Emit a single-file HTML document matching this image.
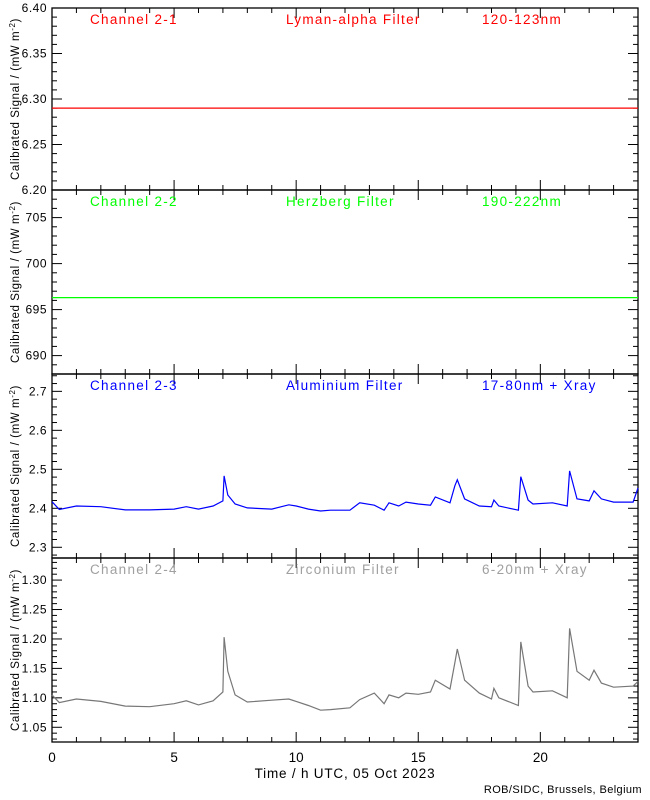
<!DOCTYPE html>
<html><head><meta charset="utf-8"><style>
body{margin:0;background:#fff}
svg{display:block;font-family:"Liberation Sans",sans-serif}
</style></head><body>
<svg id="c" width="650" height="800" xmlns="http://www.w3.org/2000/svg"></svg>
<script>
const times=[0,0.3,1,2,3,4,5,5.5,6,6.6,7.0,7.05,7.2,7.5,8,9,9.7,10,10.5,11,11.4,12.2,12.6,13.2,13.6,13.8,14.2,14.5,15,15.5,15.7,16.3,16.5,16.6,16.9,17.5,18,18.1,18.3,19.1,19.2,19.5,19.7,20.5,21.1,21.2,21.5,22,22.2,22.5,23,23.8,24];
const ch1=times.map(()=>6.29);
const ch2=times.map(()=>696.3);
const ch3=[2.417,2.397,2.406,2.404,2.396,2.396,2.398,2.404,2.398,2.406,2.419,2.483,2.434,2.411,2.401,2.398,2.409,2.406,2.398,2.393,2.395,2.395,2.414,2.408,2.395,2.414,2.406,2.416,2.411,2.408,2.429,2.414,2.458,2.473,2.424,2.406,2.404,2.421,2.406,2.395,2.481,2.421,2.411,2.414,2.406,2.496,2.424,2.419,2.445,2.424,2.416,2.416,2.452];
const ch4=[1.105,1.092,1.098,1.094,1.086,1.085,1.09,1.095,1.088,1.095,1.11,1.203,1.145,1.105,1.093,1.096,1.098,1.094,1.087,1.079,1.08,1.083,1.097,1.108,1.09,1.105,1.1,1.108,1.106,1.11,1.13,1.115,1.16,1.183,1.13,1.108,1.098,1.116,1.1,1.087,1.195,1.12,1.11,1.112,1.1,1.218,1.145,1.13,1.147,1.125,1.118,1.12,1.128];
const xTicks=[0,5,10,15,20];
const titles=[["Channel 2-1","Lyman-alpha Filter","120-123nm"],["Channel 2-2","Herzberg Filter","190-222nm"],["Channel 2-3","Aluminium Filter","17-80nm + Xray"],["Channel 2-4","Zirconium Filter","6-20nm + Xray"]];
const yTicks1=["6.20","6.25","6.30","6.35","6.40"];
const yTicks2=["690","695","700","705"];
const yTicks3=["2.3","2.4","2.5","2.6","2.7"];
const yTicks4=["1.05","1.10","1.15","1.20","1.25","1.30"];

const NS="http://www.w3.org/2000/svg";
const svg=document.getElementById('c');
function mk(tag,attrs,parent){const e=document.createElementNS(NS,tag);for(const k in attrs)e.setAttribute(k,attrs[k]);(parent||svg).appendChild(e);return e;}
const X0=52,X1=638;
const xs=t=>X0+(t/24)*(X1-X0);
const panels=[
 {top:8,bot:190,min:6.2,max:6.4,minor:0.01,major:0.05,ticks:yTicks1,data:ch1,col:"#ff0000",tcol:"#ff0000"},
 {top:190,bot:374,min:688,max:708,minor:1,major:5,ticks:yTicks2,data:ch2,col:"#00ff00",tcol:"#00ff00"},
 {top:374,bot:558,min:2.2725,max:2.7445,minor:0.02,major:0.1,ticks:yTicks3,data:ch3,col:"#0000ff",tcol:"#0000ff"},
 {top:558,bot:742,min:1.025,max:1.3375,minor:0.01,major:0.05,ticks:yTicks4,data:ch4,col:"#777777",tcol:"#a0a0a0"}
];
panels.forEach((p,i)=>{
 const g=mk('g',{});
 
 
 const ys=v=>p.bot-(v-p.min)/(p.max-p.min)*(p.bot-p.top);
 mk('rect',{x:X0,y:p.top,width:X1-X0,height:p.bot-p.top,fill:'none',stroke:'#000','stroke-width':1.3},g);
 const start=Math.ceil(p.min/p.minor-1e-6);
 for(let k=start;k*p.minor<=p.max+1e-9;k++){
  const v=k*p.minor;const y=ys(v);
  const isMaj=Math.abs(v/p.major-Math.round(v/p.major))<1e-6;
  const L=isMaj?10:5;
  mk('line',{x1:X0,x2:X0+L,y1:y,y2:y,stroke:'#000'},g);
  mk('line',{x1:X1,x2:X1-L,y1:y,y2:y,stroke:'#000'},g);
 }
 p.ticks.forEach(s=>{const t=mk('text',{x:X0-5,y:ys(parseFloat(s))+4,'text-anchor':'end','font-size':12,'letter-spacing':0.5},g);t.textContent=s;
  });
 for(let h=0;h<=24;h++){const x=xs(h);const L=h%5==0?10:5;
  mk('line',{x1:x,x2:x,y1:p.top,y2:p.top+L,stroke:'#000'},g);
  mk('line',{x1:x,x2:x,y1:p.bot,y2:p.bot-L,stroke:'#000'},g);}
 const tx=[90,286,482];
 titles[i].forEach((s,j)=>{const t=mk('text',{x:tx[j],y:p.top+16,fill:p.tcol,'font-size':13.5,'letter-spacing':1.3},g);t.textContent=s;
  });
 const cy=(p.top+p.bot)/2;
 const yt=mk('text',{x:0,y:0,'font-size':11.5,'letter-spacing':0.6,'text-anchor':'middle',transform:`translate(19,${cy}) rotate(-90)`},g);
 yt.innerHTML='Calibrated Signal / (mW m<tspan dy="-4" font-size="8">-2</tspan><tspan dy="4">)</tspan>';
 
 const pts=times.map((t,k)=>xs(t).toFixed(1)+','+ys(p.data[k]).toFixed(1)).join(' ');
 const pl=mk('polyline',{points:pts,fill:'none',stroke:p.col,'stroke-width':1.2},g);
 
 
});
xTicks.forEach(h=>{const t=mk('text',{x:xs(h),y:762,'text-anchor':'middle','font-size':13.5});t.textContent=h;
 });
const xt=mk('text',{x:345,y:778,'text-anchor':'middle','font-size':13.5,'letter-spacing':0.8});xt.textContent='Time / h UTC, 05 Oct 2023';

const cr=mk('text',{x:642,y:793,'text-anchor':'end','font-size':11,'letter-spacing':0.4});cr.textContent='ROB/SIDC, Brussels, Belgium';

</script>
</body></html>
